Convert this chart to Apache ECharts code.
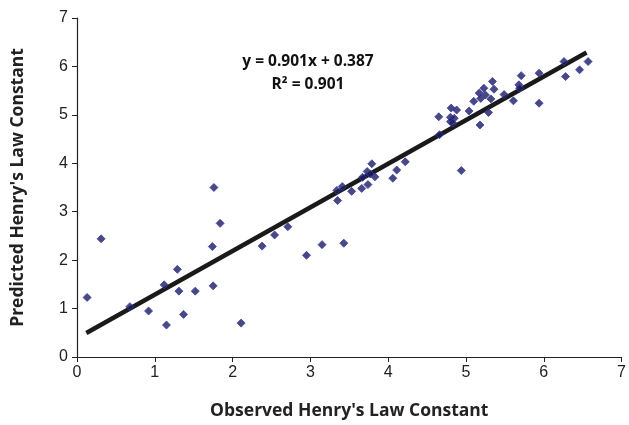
<!DOCTYPE html>
<html><head><meta charset="utf-8">
<script src="https://cdn.jsdelivr.net/npm/echarts@6/dist/echarts.min.js"></script>
<style>html,body{margin:0;padding:0;background:#fff}#c{width:629px;height:425px}</style>
</head><body><div id="c"></div>
<script>
var observed = [0.13,0.31,0.68,0.92,1.12,1.15,1.29,1.31,1.37,1.52,1.74,1.75,1.76,1.84,2.11,2.38,
  2.54,2.71,2.95,3.15,3.43,3.35,3.34,3.41,3.53,3.66,3.67,3.74,3.73,3.79,3.83,3.77,4.06,4.11,4.22,
  4.65,4.66,4.81,4.88,4.80,4.85,4.80,4.83,5.04,5.10,5.18,5.29,5.17,5.23,5.19,5.25,5.32,5.34,5.36,
  5.49,5.61,5.68,5.71,5.69,5.94,5.94,4.94,6.26,6.28,6.46,6.57];
var predicted = [1.23,2.44,1.04,0.95,1.49,0.66,1.81,1.36,0.88,1.36,2.28,1.47,3.50,2.76,0.70,2.29,
  2.52,2.69,2.10,2.32,2.35,3.23,3.44,3.52,3.42,3.48,3.71,3.56,3.83,3.99,3.72,3.78,3.69,3.86,4.03,
  4.96,4.59,5.14,5.10,4.95,4.93,4.86,4.83,5.08,5.28,4.79,5.05,5.45,5.55,5.34,5.41,5.33,5.69,5.53,
  5.42,5.29,5.62,5.81,5.55,5.86,5.24,3.85,6.10,5.79,5.93,6.10];
var slope = 0.901, intercept = 0.387;
var trendX = [0.12, 6.55];
var xTicks = [0,1,2,3,4,5,6,7];
var yTicks = [0,1,2,3,4,5,6,7];

var pts = observed.map(function(x,i){return [x, predicted[i]];});
var trend = trendX.map(function(x){return [x, slope*x+intercept];});

var chart = echarts.init(document.getElementById('c'));
var axisCommon = {
  min:0,max:7,interval:1,
  axisLine:{show:true,lineStyle:{color:'#222',width:1.2}},
  axisTick:{show:true,inside:false,length:5,lineStyle:{color:'#222'}},
  splitLine:{show:false},
  axisLabel:{color:'#222',fontSize:16,fontFamily:'Liberation Sans, Arial'},
  nameTextStyle:{color:'#222',fontSize:17.5,fontWeight:'bold',fontFamily:'Open Sans'}
};
chart.setOption({
  animation:false,
  grid:{left:77,right:4,top:18,bottom:67},
  xAxis:Object.assign({},axisCommon,{type:'value',name:"Observed Henry's Law Constant",
    nameLocation:'middle',nameGap:45,axisLabel:Object.assign({},axisCommon.axisLabel,{margin:8})}),
  yAxis:Object.assign({},axisCommon,{type:'value',name:"Predicted Henry's Law Constant",
    nameLocation:'middle',nameGap:50,axisLabel:Object.assign({},axisCommon.axisLabel,{margin:9})}),
  series:[
    {type:'line',data:trend,symbol:'none',lineStyle:{color:'#1a1a1a',width:4.5},z:3},
    {type:'scatter',data:pts,symbol:'diamond',symbolSize:8,
     itemStyle:{color:'#1c1c5e',borderColor:'#3a3ab0',borderWidth:1},z:4}
  ],
  graphic:[
    {type:'text',style:{text:'y = 0.901x + 0.387',fill:'#111',
      font:'bold 15.5px "Open Sans"',textAlign:'center',textVerticalAlign:'middle'},position:[308,62]},
    {type:'text',style:{text:'R² = 0.901',fill:'#111',
      font:'bold 15.5px "Open Sans"',textAlign:'center',textVerticalAlign:'middle'},position:[308,85]}
  ]
});
</script></body></html>
